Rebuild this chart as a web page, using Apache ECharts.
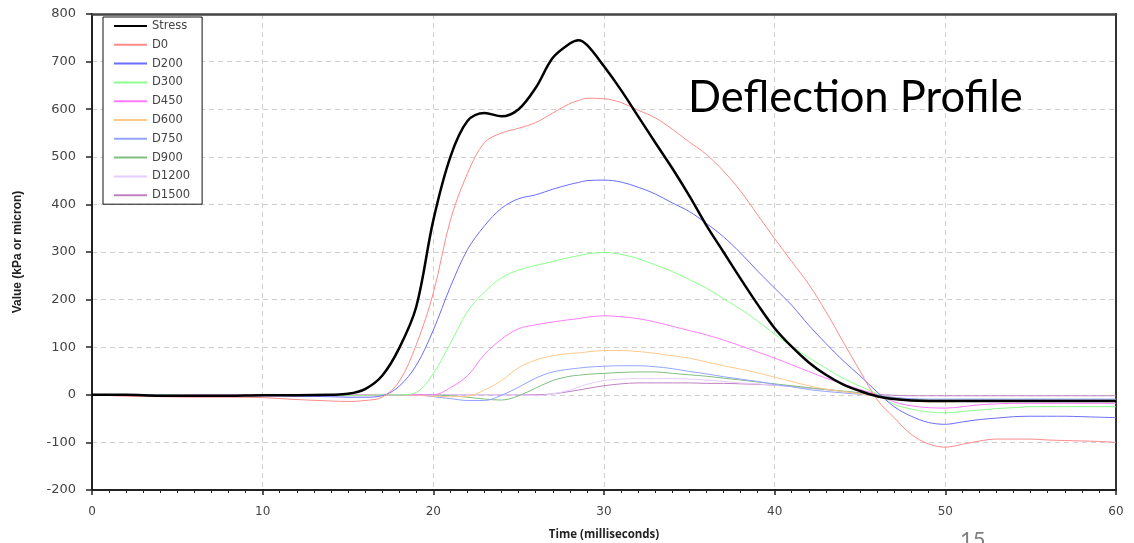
<!DOCTYPE html>
<html><head><meta charset="utf-8">
<script src="https://cdn.jsdelivr.net/npm/echarts@6/dist/echarts.min.js"></script>
<style>html,body{margin:0;padding:0;background:#fff}#c{width:1134px;height:543px}</style>
</head><body><div id="c"></div>
<script>
const time = [0,2,4,6,8,10,12,14,15,16,17,18,19,20,21,22,23,24,25,26,27,28,28.5,29,30,31,32,33,34,35,36,37,38,39,40,41,42,43,44,45,46,47,48,49,50,51,52,53,54,55,56,57,58,59,60];
const stress = [0,0,-2,-2,-2,-1,-1,0,2,12,40,98,185,367,500,575,592,585,600,645,708,738,745,735,690,640,585,530,476,418,356,300,244,190,140,101,68,42,22,8,-3,-9,-12,-13,-13,-13,-13,-13,-13,-13,-13,-13,-13,-13,-13];
const d0 = [0,-3,-4,-5,-5,-6,-10,-13,-14,-12,-5,28,105,214,367,465,530,550,560,572,592,612,618,623,622,614,598,582,558,531,505,470,428,378,328,280,232,175,112,50,-10,-48,-83,-103,-110,-104,-97,-93,-93,-93,-95,-96,-97,-98,-100];
const d200 = [0,0,-1,-2,-2,-2,-3,-4,-5,-5,-2,18,62,136,227,305,355,392,412,420,432,442,446,450,451,447,436,422,403,385,360,332,298,260,224,188,146,108,72,40,6,-25,-45,-58,-62,-57,-52,-49,-46,-45,-45,-45,-46,-47,-48];
const d300 = [0,0,0,-1,-1,-1,-1,-1,-1,-1,0,0,5,45,108,175,216,246,262,272,280,289,292,296,299,295,286,273,259,242,224,202,180,155,127,102,78,56,35,18,2,-20,-30,-36,-38,-35,-32,-29,-27,-25,-25,-25,-25,-25,-25];
const d450 = [0,0,0,0,0,0,0,0,0,0,0,0,0,0,15,40,85,117,139,147,153,158,160,163,166,164,160,153,144,135,126,115,103,90,77,63,49,35,23,11,1,-15,-23,-27,-28,-25,-21,-19,-18,-18,-18,-18,-18,-18,-18];
const d600 = [0,0,0,0,0,0,0,0,0,0,0,0,-1,-3,-4,-3,10,30,57,73,82,87,88,90,93,93,91,87,82,77,69,61,54,46,37,28,19,12,7,2,-4,-10,-13,-15,-15,-14,-14,-14,-14,-14,-14,-14,-14,-14,-14];
const d750 = [0,0,0,0,0,0,0,0,0,0,0,0,0,-4,-8,-12,-12,-1,16,35,48,54,56,58,60,61,61,59,55,49,44,38,33,28,22,17,11,7,4,1,-2,-6,-8,-9,-9,-9,-9,-9,-9,-9,-9,-9,-9,-9,-9];
const d900 = [0,0,0,0,0,0,0,0,0,0,0,0,0,0,-2,-5,-9,-11,-2,14,30,39,41,43,45,47,48,48,45,42,39,35,31,27,23,19,15,11,8,4,-1,-6,-9,-11,-11,-11,-11,-11,-11,-11,-11,-11,-11,-11,-11];
const d1200 = [0,0,0,0,0,0,0,0,0,0,0,0,0,0,0,0,0,0,0,-2,2,10,16,22,30,33,34,34,34,33,31,28,25,23,20,17,14,11,7,4,0,-5,-9,-12,-13,-12,-11,-10,-10,-10,-10,-10,-10,-10,-10];
const d1500 = [0,0,0,0,0,0,0,0,0,0,0,0,0,0,0,0,0,0,0,0,2,7,10,13,19,23,25,25,25,25,24,24,23,22,20,18,14,11,7,4,1,-1,-2,-2,-2,-2,-2,-2,-2,-2,-2,-2,-2,-2,-2];
const seriesNames = ['Stress','D0','D200','D300','D450','D600','D750','D900','D1200','D1500'];
const seriesValues = [stress,d0,d200,d300,d450,d600,d750,d900,d1200,d1500];
const colors = ['#000000','#ff8a8a','#6b6bff','#8cff8c','#ff7cff','#ffc98c','#94a4ff','#7fbf7f','#e6ccff','#c080c0'];

const chart = echarts.init(document.getElementById('c'));
const series = seriesNames.map((n,i)=>({
  name:n, type:'line', symbol:'none', smooth:0.35,
  data: time.map((t,k)=>[t, seriesValues[i][k]]),
  lineStyle:{color:colors[i], width: i===0?2.5:1},
  itemStyle:{color:colors[i]},
  z: i===0?10:2, silent:true
})).reverse();
chart.setOption({
  animation:false,
  grid:{left:92,right:18,top:14,bottom:53,containLabel:false,outerBoundsMode:'none'},
  legend:{
    orient:'vertical', left:103, top:17, data:seriesNames,
    itemWidth:33, itemHeight:14, itemGap:6.8,
    padding:[3,12,3,10],
    borderColor:'#111', borderWidth:1, backgroundColor:'#fff',
    itemStyle:{opacity:0},
    textStyle:{fontFamily:'DejaVu Sans', fontSize:11.5, color:'#444'}
  },
  xAxis:[{
    type:'value', min:0, max:60, interval:10,
    name:'Time (milliseconds)', nameLocation:'middle', nameGap:39,
    nameTextStyle:{fontFamily:'Open Sans', fontWeight:'bold', fontSize:11.5, color:'#222'},
    axisLine:{show:true,onZero:false,lineStyle:{color:'#222',width:2}},
    axisTick:{show:true,length:5,lineStyle:{color:'#222',width:1.5}},
    minorTick:{show:true,splitNumber:10,length:3,lineStyle:{color:'#222',width:1}},
    axisLabel:{fontFamily:'DejaVu Sans',fontSize:12,color:'#444',margin:16},
    splitLine:{show:true,lineStyle:{color:'#d0d0d0',type:[5,4],width:1}}
  },{
    type:'value', min:0, max:60, position:'top',
    axisLine:{show:true,onZero:false,lineStyle:{color:'#444',width:2.5}},
    axisTick:{show:false}, axisLabel:{show:false}, splitLine:{show:false}
  }],
  yAxis:[{
    type:'value', min:-200, max:800, interval:100,
    name:'Value (kPa or micron)', nameLocation:'middle', nameGap:68, nameRotate:90,
    nameTextStyle:{fontFamily:'Liberation Sans', fontWeight:'bold', fontSize:12, color:'#222'},
    axisLine:{show:true,onZero:false,lineStyle:{color:'#222',width:2}},
    axisTick:{show:true,length:6,lineStyle:{color:'#222',width:1.5}},
    axisLabel:{fontFamily:'DejaVu Sans',fontSize:13,color:'#444',margin:16},
    splitLine:{show:true,lineStyle:{color:'#d0d0d0',type:[5,4],width:1}}
  },{
    type:'value', min:-200, max:800, position:'right',
    axisLine:{show:true,onZero:false,lineStyle:{color:'#333',width:2}},
    axisTick:{show:false}, axisLabel:{show:false}, splitLine:{show:false}
  }],
  graphic:[
    {type:'text', left:688, top:76, z:100, style:{text:'Deflection Profile', fontFamily:'Lato', fontSize:43.5, fill:'#000'}},
    {type:'text', left:960, top:529, z:100, style:{text:'15', fontFamily:'Lato', fontSize:22, fill:'#808080'}}
  ],
  series: series
});
</script></body></html>
